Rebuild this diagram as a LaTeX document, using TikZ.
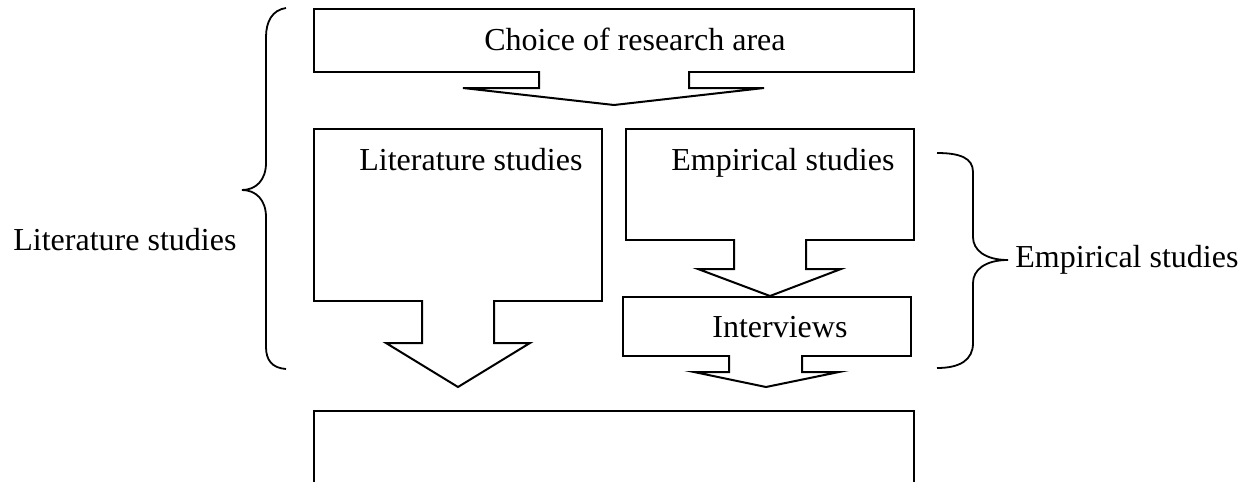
\documentclass[tikz,border=0pt]{standalone}
\usepackage{fontspec}
\setmainfont{Liberation Serif}
\usetikzlibrary{fit}
\begin{document}
\begin{tikzpicture}[x=0.5pt,y=-0.5pt,
  box/.style={draw, line width=1pt, fill=white, inner sep=0pt},
  blockarrow/.style={draw, fill=white, line width=1pt, line join=miter},
  txt/.style={inner sep=0pt, anchor=base west, font=\fontsize{16}{19}\selectfont},
  brace/.style={draw, line width=0.9pt}]
\clip (0,0) rectangle (1249,482);

% boxes
\node[box, fit={(314,9) (914,72)}] (choice) {};
\node[box, fit={(314,129) (602,301)}] (lit) {};
\node[box, fit={(626,129) (914,240)}] (emp) {};
\node[box, fit={(623,297) (911,356)}] (intv) {};
\node[box, fit={(314,411) (914,530)}] (result) {};

% block arrows leaving the boxes
\path[blockarrow] (539,71) -- (539,88) -- (463,88) -- (614,105) -- (764,88) -- (689,88) -- (689,71);
\path[blockarrow] (422,300) -- (422,343) -- (386,343) -- (458,387) -- (530,343) -- (494,343) -- (494,300);
\path[blockarrow] (734,239) -- (734,269) -- (698,269) -- (770,296) -- (841,269) -- (806,269) -- (806,239);
\path[blockarrow] (729,355) -- (729,372) -- (694,372) -- (766,387) -- (839,372) -- (802,372) -- (802,355);

% texts
\node[txt] (tChoice) at (484,50) {Choice of research area};
\node[txt] (tLit) at (359,170) {Literature studies};
\node[txt] (tEmp) at (671,170) {Empirical studies};
\node[txt] (tInt) at (712,337) {Interviews};
\node[txt] (tLitSide) at (13,250) {Literature studies};
\node[txt] (tEmpSide) at (1015,267) {Empirical studies};

% braces
\path[brace] (286,8) .. controls (272,10) and (266,22) .. (266,37) -- (266,163)
  .. controls (266,180) and (256,190) .. (242,190)
  .. controls (256,190) and (266,200) .. (266,217) -- (266,347)
  .. controls (266,360) and (272,368) .. (286,369);
\path[brace] (937,153) .. controls (960,153) and (973,158) .. (973,172) -- (973,237)
  .. controls (973,250) and (985,260) .. (1008,260)
  .. controls (985,260) and (973,270) .. (973,283) -- (973,343)
  .. controls (973,360) and (960,368) .. (937,368);
\end{tikzpicture}
\end{document}
